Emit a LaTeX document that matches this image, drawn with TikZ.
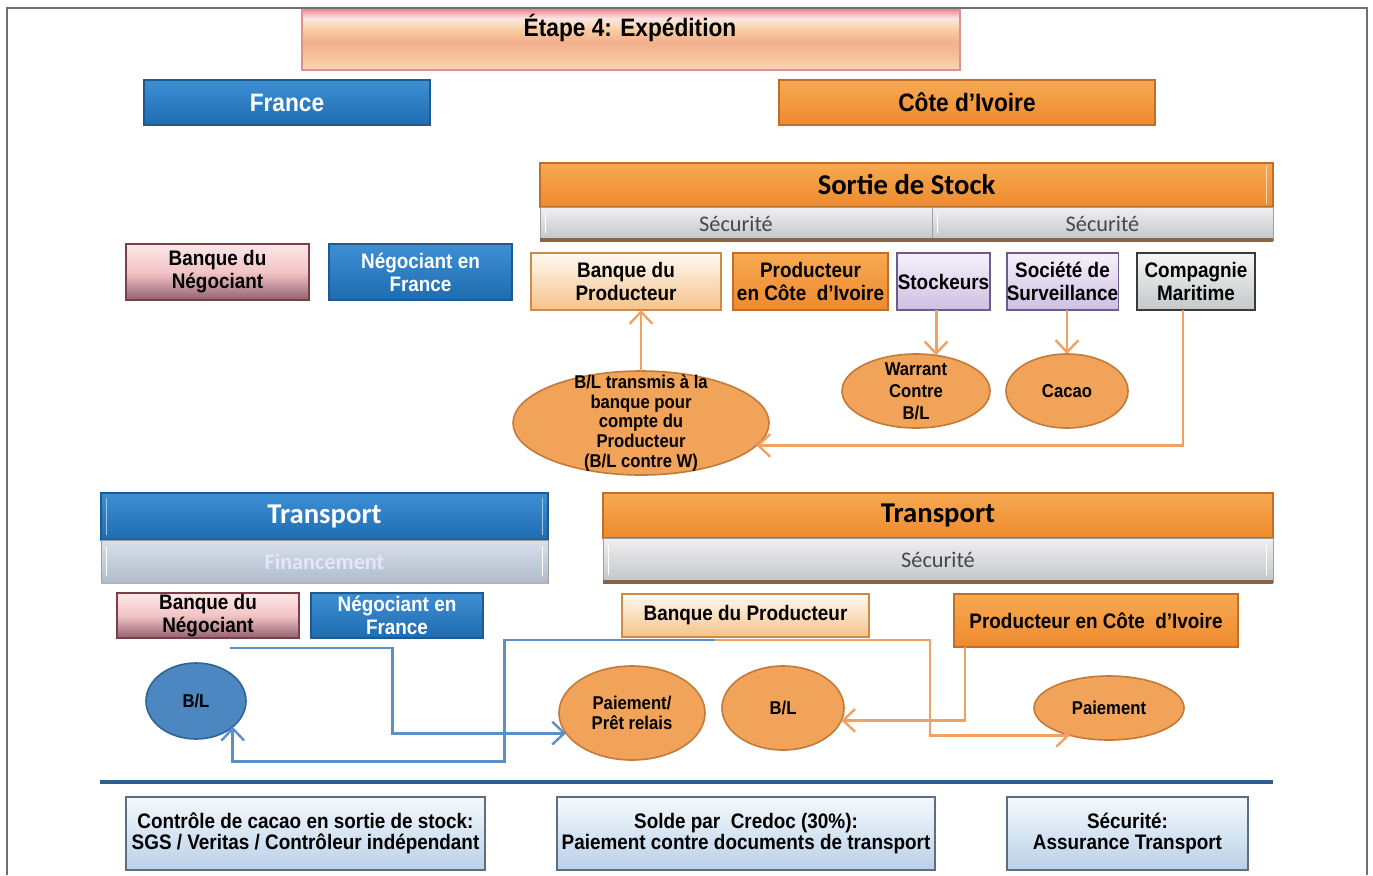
\documentclass[tikz,border=0pt]{standalone}
\usepackage{fontspec}
\setmainfont{Liberation Sans}
\newfontfamily\labfont{Liberation Sans}[FakeStretch=0.9]
\newfontfamily\calfont{Carlito}
\usetikzlibrary{shapes.geometric,arrows.meta,calc}

\definecolor{orT}{HTML}{F7A952}
\definecolor{orB}{HTML}{EE8A2E}
\definecolor{orD}{HTML}{C06E28}
\definecolor{blT}{HTML}{3D8FD4}
\definecolor{blB}{HTML}{1F6CB0}
\definecolor{blD}{HTML}{1C5A92}
\definecolor{peT}{HTML}{FFF9F2}
\definecolor{peB}{HTML}{F5C28A}
\definecolor{peD}{HTML}{D08A44}
\definecolor{lavT}{HTML}{F6F2FB}
\definecolor{lavB}{HTML}{CDBFE2}
\definecolor{lavD}{HTML}{6E5A8E}
\definecolor{gyT}{HTML}{F6F6F6}
\definecolor{gyB}{HTML}{C3C8C8}
\definecolor{gyD}{HTML}{3A3A3A}
\definecolor{pkT}{HTML}{FDE8E8}
\definecolor{pkM}{HTML}{F2C4C6}
\definecolor{pkB}{HTML}{946270}
\definecolor{pkD}{HTML}{7A4048}
\definecolor{oeF}{HTML}{F2A35A}
\definecolor{oeD}{HTML}{C47A36}
\definecolor{beF}{HTML}{4C87C2}
\definecolor{beD}{HTML}{2E6496}
\definecolor{oline}{HTML}{F1A262}
\definecolor{bline}{HTML}{5B8FCA}
\definecolor{frameC}{HTML}{707070}
\definecolor{infoT}{HTML}{F5F9FD}
\definecolor{infoB}{HTML}{B9D0E8}
\definecolor{infoD}{HTML}{5E6E82}
\definecolor{sepC}{HTML}{2E5E8E}
\definecolor{barT}{HTML}{F0F0F2}
\definecolor{barB}{HTML}{C4C5C8}
\definecolor{barD}{HTML}{A0A0A0}
\definecolor{finT}{HTML}{D8E0EA}
\definecolor{finB}{HTML}{AFBCCB}
\definecolor{shBrown}{HTML}{8A6446}
\definecolor{ttA}{HTML}{F8D8B8}
\definecolor{ttB}{HTML}{F6C499}
\definecolor{ttC}{HTML}{F2AF8E}
\definecolor{ttD}{HTML}{F7CC9E}
\definecolor{ttE}{HTML}{FCE8E4}
\definecolor{ttF}{HTML}{F0A0A4}
\definecolor{ttD2}{HTML}{E09090}

\pgfdeclareverticalshading{ttlshade}{100bp}{color(0bp)=(ttA); color(25bp)=(ttA); color(36bp)=(ttB); color(48bp)=(ttC); color(58bp)=(ttD); color(68bp)=(ttE); color(74bp)=(ttF); color(75bp)=(ttF); color(100bp)=(ttF)}

\newcommand\LabF{\labfont\bfseries\fontsize{15.75}{17.4}\selectfont}
\newcommand\LabG{\labfont\bfseries\fontsize{15.75}{16}\selectfont}
\newcommand\HdrF{\labfont\bfseries\fontsize{18.9}{22}\selectfont}
\newcommand\CalH{\calfont\bfseries\fontsize{21.5}{24}\selectfont}
\newcommand\CalS{\calfont\fontsize{16.7}{18}\selectfont}
\newcommand\CalB{\calfont\bfseries\fontsize{16.7}{18}\selectfont}
\newcommand\EllF{\labfont\bfseries\fontsize{13.9}{14.8}\selectfont}
\newcommand\EllG{\labfont\bfseries\fontsize{13.9}{16.5}\selectfont}

\newcommand\bx[7]{\node[#6,minimum width={(#4-#2)*0.75pt},minimum height={(#5-#3)*0.75pt}] (#1) at ({(#2+#4)/2},{(#3+#5)/2}) {#7};}

\tikzset{
  base/.style={rectangle, inner sep=0pt, outer sep=0pt, align=center, font=\LabF, text=black},
  obox/.style={base, top color=orT, bottom color=orB, draw=orD, line width=0.8pt},
  bbox/.style={base, top color=blT, bottom color=blB, draw=blD, line width=0.8pt, text=white},
  pebox/.style={base, top color=peT, bottom color=peB, draw=peD, line width=0.8pt},
  lavbox/.style={base, top color=lavT, bottom color=lavB, draw=lavD, line width=1pt},
  gybox/.style={base, top color=gyT, bottom color=gyB, draw=gyD, line width=1.5pt},
  pkbox/.style={base, top color=pkT, bottom color=pkB, middle color=pkM, draw=pkD, line width=0.8pt},
  graybar/.style={base, top color=barT, bottom color=barB, draw=barD, line width=0.5pt, font=\CalS, text=black!72},
  finbar/.style={base, top color=finT, bottom color=finB, draw=barD, line width=0.5pt, font=\CalB, text=white!90!blue},
  infobox/.style={base, top color=infoT, bottom color=infoB, draw=infoD, line width=2pt, font=\LabG},
  oell/.style={ellipse, inner sep=0pt, outer sep=0pt, fill=oeF, draw=oeD, line width=1.2pt},
  bell/.style={ellipse, inner sep=0pt, outer sep=0pt, fill=beF, draw=beD, line width=1.2pt},
  etxt/.style={font=\EllF, align=center, inner sep=0pt, text=black},
  etxtg/.style={font=\EllG, align=center, inner sep=0pt, text=black},
  oarr/.style={draw=oline, line width=2.2pt, -{Straight Barb[length=9pt,width=17pt,line width=1.8pt]}},
  barr/.style={draw=bline, line width=2.2pt, -{Straight Barb[length=9pt,width=17pt,line width=1.8pt]}},
  framel/.style={draw=frameC, line width=1.5pt},
}

\begin{document}
\begin{tikzpicture}[x=0.75pt,y=-0.75pt]
\useasboundingbox (0,0) rectangle (1373,875);
\fill[white] (0,0) rectangle (1373,875);
\draw[framel] (7,875) -- (7,8) -- (1367,8) -- (1367,875);

% title
\bx{title}{302}{10}{960}{70}{base, shading=ttlshade, draw=ttD2, line width=1pt}{}
\node[font=\HdrF] (titletxt) at (630,28) {Étape 4: Expédition};

% countries
\bx{fr}{144}{80}{430}{125}{bbox, font=\HdrF}{France}
\bx{ci}{779}{80}{1155}{125}{obox, font=\HdrF}{Côte d’Ivoire}

% Sortie de stock
\bx{ss}{540}{163}{1273}{207}{obox, font=\CalH}{Sortie de Stock}
\bx{sec1}{540}{207}{932}{240}{graybar}{Sécurité}
\bx{sec2}{932}{207}{1273}{240}{graybar}{Sécurité}
\draw[shBrown, line width=2.5pt] (sec1.south west) -- (sec2.south east);
\draw[white, line width=1.2pt] ([xshift=4pt,yshift=-5pt]sec1.north west) -- ([xshift=4pt,yshift=5pt]sec1.south west);
\draw[white, line width=1.2pt] ([xshift=4pt,yshift=-5pt]sec2.north west) -- ([xshift=4pt,yshift=5pt]sec2.south west);
\draw[white!60!orT, line width=1.2pt] ([xshift=-5pt,yshift=-2pt]ss.north east) -- ([xshift=-5pt,yshift=2pt]ss.south east);

\bx{bp1}{531}{253}{721}{310}{pebox}{Banque du\\Producteur}
\bx{pc1}{733}{253}{888}{310}{obox}{Producteur\\en Côte \ d’Ivoire}
\bx{stk}{897}{253}{990}{310}{lavbox}{Stockeurs}
\bx{soc}{1007}{253}{1118}{310}{lavbox}{Société de\\Surveillance}
\bx{cm}{1137}{253}{1255}{310}{gybox}{Compagnie\\Maritime}

\bx{bn1}{126}{244}{309}{300}{pkbox}{Banque du\\Négociant}
\bx{nf1}{329}{244}{512}{300}{bbox}{Négociant en\\France}

% upper ellipses
\node[oell, minimum width={256*0.75pt}, minimum height={104*0.75pt},
  label={[etxt]center:{B/L transmis à la\\banque pour\\compte du\\Producteur\\(B/L contre W)}}] (bl1) at (641,423) {};
\node[oell, minimum width={148*0.75pt}, minimum height={74*0.75pt},
  label={[etxtg]center:{Warrant\\Contre\\B/L}}] (war) at (916,391) {};
\node[oell, minimum width={122*0.75pt}, minimum height={74*0.75pt},
  label={[etxt]center:{Cacao}}] (cac) at (1067,391) {};

% upper connectors
\draw[oarr] (bl1.north) -- (bl1.north |- bp1.south);
\draw[oarr] ([xshift=-5.6pt]stk.south) -- ([xshift=-5.6pt,yshift=-1pt]stk.south |- war.north);
\draw[oarr] (cac.north |- soc.south) -- (cac.north);
\draw[oarr] ([xshift=-9.75pt]cm.south) |- (bl1.-11);

% Transport headers
\bx{tl}{101}{493}{548}{540}{bbox, font=\CalH}{Transport}
\bx{fin}{101}{540}{548}{583}{finbar}{Financement}
\draw[gray!60, line width=2pt] (fin.south west) -- (fin.south east);
\draw[white!50!blT, line width=1.2pt] ([xshift=4pt,yshift=-4pt]tl.north west) -- ([xshift=4pt,yshift=4pt]tl.south west);
\draw[white!50!blT, line width=1.2pt] ([xshift=-4pt,yshift=-4pt]tl.north east) -- ([xshift=-4pt,yshift=4pt]tl.south east);
\draw[white, line width=1.2pt] ([xshift=4pt,yshift=-5pt]fin.north west) -- ([xshift=4pt,yshift=5pt]fin.south west);
\draw[white, line width=1.2pt] ([xshift=-4pt,yshift=-5pt]fin.north east) -- ([xshift=-4pt,yshift=5pt]fin.south east);

\bx{tr}{603}{493}{1273}{538}{obox, font=\CalH}{Transport}
\bx{sec3}{603}{538}{1273}{582}{graybar}{Sécurité}
\draw[shBrown, line width=2.5pt] (sec3.south west) -- (sec3.south east);
\draw[white, line width=1.2pt] ([xshift=4pt,yshift=-5pt]sec3.north west) -- ([xshift=4pt,yshift=5pt]sec3.south west);
\draw[white, line width=1.2pt] ([xshift=-5pt,yshift=-5pt]sec3.north east) -- ([xshift=-5pt,yshift=5pt]sec3.south east);

% lower boxes
\bx{bn2}{117}{593}{299}{638}{pkbox}{Banque du\\Négociant}
\bx{nf2}{311}{593}{483}{638}{bbox}{Négociant en\\France}
\bx{bp2}{622}{594}{869}{637}{pebox}{Banque du Producteur}
\bx{pc2}{954}{594}{1238}{647}{obox}{Producteur en Côte \ d’Ivoire}

% lower ellipses
\node[bell, minimum width={100*0.75pt}, minimum height={76*0.75pt},
  label={[etxt]center:{B/L}}] (bl2) at (196,701) {};
\node[oell, minimum width={146*0.75pt}, minimum height={94*0.75pt},
  label={[etxt]center:{Paiement/\\Prêt relais}}] (pp) at (632,713) {};
\node[oell, minimum width={122*0.75pt}, minimum height={84*0.75pt},
  label={[etxt]center:{B/L}}] (bl3) at (783,708) {};
\node[oell, minimum width={150*0.75pt}, minimum height={64*0.75pt},
  label={[etxt]center:{Paiement}}] (pay) at (1109,708) {};

% lower connectors
\coordinate (s1) at (230,648);
\coordinate (s2) at (715,640);
\draw[barr] (s1) -| ($(pp.197)+(-174,0)$) -- (pp.197);
\draw[barr] (s2) -| ($(bl2.-35)+(272,35)$) -| (bl2.-35);
\draw[oarr] (s2) -| ($(pay.215)+(-140,0)$) -- (pay.215);
\draw[oarr] ([xshift=8.25pt]pc2.south west) |- (bl3.-12);

% separator
\draw[sepC, line width=3pt] (100,782) -- (1273,782);

% bottom info boxes
\bx{b1}{126}{797}{485}{870}{infobox}{Contrôle de cacao en sortie de stock:\\SGS / Veritas / Contrôleur indépendant}
\bx{b2}{557}{797}{935}{870}{infobox}{Solde par \ Credoc (30\%):\\Paiement contre documents de transport}
\bx{b3}{1007}{797}{1248}{870}{infobox}{Sécurité:\\Assurance Transport}
\end{tikzpicture}
\end{document}
